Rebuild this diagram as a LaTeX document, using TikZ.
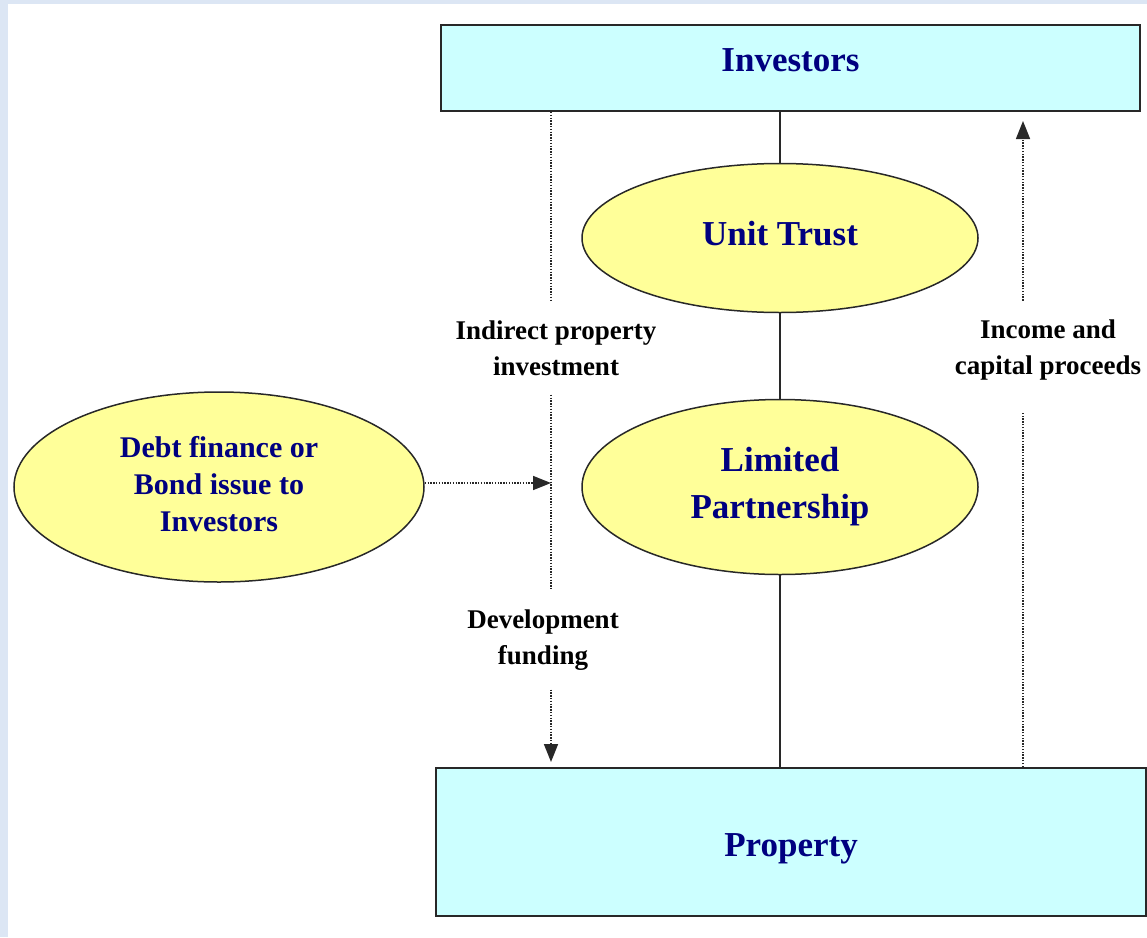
\documentclass[tikz,border=0pt]{standalone}
\usepackage{fontspec}
\setmainfont{Liberation Serif}
\usetikzlibrary{shapes.geometric,arrows.meta,backgrounds}
\definecolor{pagebg}{RGB}{220,230,244}
\definecolor{boxfill}{RGB}{204,255,255}
\definecolor{ovalfill}{RGB}{255,255,153}
\definecolor{navy}{RGB}{0,0,128}
\definecolor{edge}{RGB}{40,40,40}

\begin{document}
\begin{tikzpicture}[x=1pt,y=-1pt,
  box/.style={rectangle, draw=edge, line width=2pt, fill=boxfill, inner sep=0pt,
    text=navy, font=\fontsize{35}{40}\selectfont\bfseries},
  oval/.style={ellipse, draw=edge, line width=1.5pt, fill=ovalfill, inner sep=0pt,
    text=navy, align=center, font=\fontsize{35}{47}\selectfont\bfseries},
  flowlabel/.style={align=center, inner xsep=2pt, inner ysep=19pt,
    font=\fontsize{27}{36}\selectfont\bfseries},
  flow/.style={draw=edge, line width=1.6pt, dash pattern=on 1.4pt off 1.4pt},
  flowtip/.style={-{Triangle[length=18pt,width=14pt]}},
  link/.style={draw=edge, line width=2pt}]

\useasboundingbox (0,0) rectangle (1147,937);

% top and bottom boxes
\node[box, minimum width=699pt, minimum height=86pt, text depth=16pt] (inv) at (790.5,68) {Investors};
\node[box, minimum width=710pt, minimum height=148pt, text height=36pt, text depth=8pt] (prop) at (791,842) {Property};

% vehicles
\node[oval, minimum width=396pt, minimum height=149pt, text depth=10pt] (ut) at (780,238) {Unit Trust};
\node[oval, minimum width=396pt, minimum height=175pt] (lp) at (780,487) {Limited\\Partnership};
\node[oval, minimum width=410pt, minimum height=190pt, text depth=7pt,
      font=\fontsize{30}{37}\selectfont\bfseries] (debt) at (219,487)
      {Debt finance or\\Bond issue to\\Investors};

% flow labels
\node[flowlabel] (indir) at (556,348) {Indirect property\\investment};
\node[flowlabel] (devf) at (543,640) {Development\\funding};
\node[flowlabel] (inc) at (1048,350) {Income and\\capital proceeds};

% axes of the two dotted flows
\coordinate (dl) at (551,0);
\coordinate (dr) at (1023,0);

\begin{pgfonlayer}{background}
  \fill[pagebg] (0,0) rectangle (1147,937);
  \fill[white] (8,4) rectangle (1147,937);
  % ownership chain
  \draw[link] (inv.south -| ut.center) -- (prop.north -| ut.center);
  % capital going down
  \draw[flow] (inv.south -| dl) -- (indir.north -| dl);
  \draw[flow] (indir.south -| dl) -- (devf.north -| dl);
  \draw[flow, flowtip, shorten >=5pt] (devf.south -| dl) -- (prop.north -| dl);
  % returns going up
  \draw[flow, shorten >=12pt] (prop.north -| dr) -- (inc.south -| dr);
  \draw[flow, flowtip, shorten >=9pt] (inc.north -| dr) -- (inv.south -| dr);
  % debt finance feeding in
  \draw[flow, flowtip] ([yshift=4pt]debt.east) -- ([yshift=4pt]debt.east -| dl);
\end{pgfonlayer}
\end{tikzpicture}
\end{document}
